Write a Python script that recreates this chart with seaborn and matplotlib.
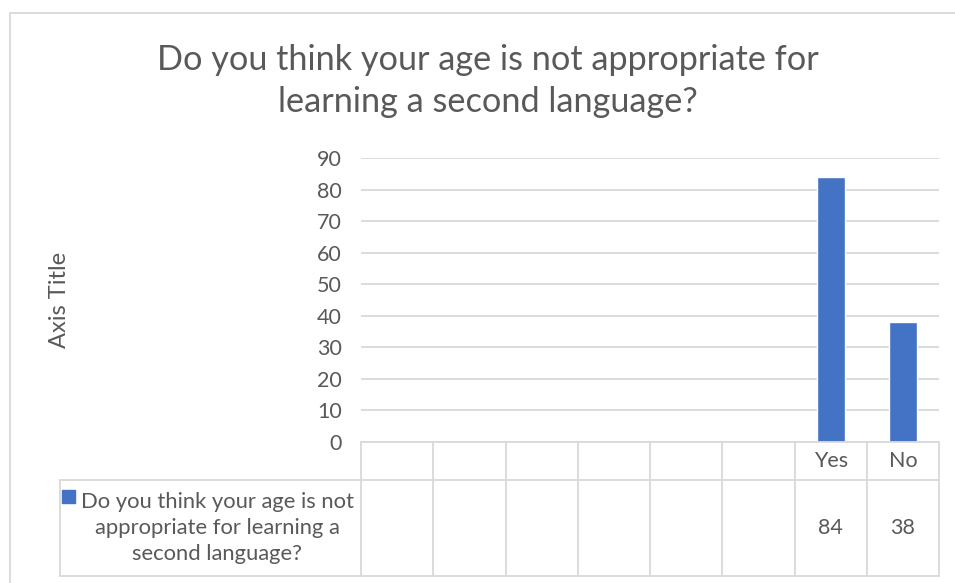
import matplotlib
matplotlib.use("Agg")
import matplotlib.pyplot as plt
import seaborn as sns
import pandas as pd
import numpy as np
from matplotlib.lines import Line2D
from matplotlib.patches import Rectangle

# ---- data ----
cat_labels = ["", "", "", "", "", "", "Yes", "No"]
values = [np.nan, np.nan, np.nan, np.nan, np.nan, np.nan, 84, 38]
series_name = "Do you think your age is not\nappropriate for learning a\nsecond language?"
title = "Do you think your age is not appropriate for\nlearning a second language?"
y_ticks = [0, 10, 20, 30, 40, 50, 60, 70, 80, 90]
y_label = "Axis Title"

sns.set_theme(style="white")
plt.rcParams['font.family'] = ['Lato', 'DejaVu Sans']

W, H = 955, 583
fig = plt.figure(figsize=(W / 100, H / 100), dpi=100)
fig.patch.set_facecolor("white")

def fx(px):
    return px / W

def fy(py):
    return 1 - py / H

# plot area in pixels
L, R, T, B = 361, 939, 158, 442
ax = fig.add_axes([fx(L), fy(B), fx(R - L), (B - T) / H])

df = pd.DataFrame({"slot": list(range(len(values))), "value": values})
sns.barplot(data=df, x="slot", y="value", order=list(range(len(values))),
            color="#4472C4", saturation=1, width=0.39, ax=ax, zorder=3)

ax.set_ylim(0, 90)
ax.set_xlim(-0.5, len(values) - 0.5)
ax.set_yticks(y_ticks)
ax.set_yticklabels([str(t) for t in y_ticks], fontsize=15.5, color="#595959")
ax.tick_params(axis="y", length=0, pad=14)
ax.set_xticks([])
ax.set_xlabel("")
ax.set_ylabel("")
for s in ax.spines.values():
    s.set_visible(False)
ax.yaxis.grid(True, color="#d9d9d9", linewidth=1.3, zorder=0)
ax.set_axisbelow(True)

# y axis title
fig.text(fx(60), fy(300), y_label, rotation=90, ha="center", va="center",
         fontsize=17, color="#595959")

# title
fig.text(fx(488), fy(81), title, ha="center", va="center", fontsize=24.7,
         color="#595959", linespacing=1.42)

# outer chart border
gc = "#d9d9d9"
fig.add_artist(Line2D([fx(10), fx(10)], [fy(13), fy(H)], color=gc, lw=1.3))
fig.add_artist(Line2D([fx(10), fx(W)], [fy(13), fy(13)], color=gc, lw=1.3))

# data table
row1_top, row1_bot, row2_bot = B, 480, 576
tab_left = 60
n = len(values)
colw = (R - L) / n
lc = "#d9d9d9"
fig.add_artist(Line2D([fx(L), fx(R)], [fy(row1_top), fy(row1_top)], color=lc, lw=1.3))
fig.add_artist(Line2D([fx(tab_left), fx(R)], [fy(row1_bot), fy(row1_bot)], color=lc, lw=1.3))
fig.add_artist(Line2D([fx(tab_left), fx(R)], [fy(row2_bot), fy(row2_bot)], color=lc, lw=1.3))
fig.add_artist(Line2D([fx(tab_left), fx(tab_left)], [fy(row1_bot), fy(row2_bot)], color=lc, lw=1.3))
for i in range(n + 1):
    x = L + i * colw
    fig.add_artist(Line2D([fx(x), fx(x)], [fy(row1_top), fy(row2_bot)], color=lc, lw=1.3))

for i, (lab, v) in enumerate(zip(cat_labels, values)):
    cx = L + (i + 0.5) * colw
    if lab:
        fig.text(fx(cx), fy(461), lab, ha="center", va="center", fontsize=15.5, color="#595959")
    if not np.isnan(v):
        fig.text(fx(cx), fy(528), f"{int(v)}", ha="center", va="center", fontsize=15.5, color="#595959")

# legend key + series name
fig.add_artist(Rectangle((fx(62), fy(503)), fx(13), 13 / H, color="#4472C4", transform=fig.transFigure))
fig.text(fx(217), fy(528), series_name, ha="center", va="center", fontsize=15.8,
         color="#595959", linespacing=1.38)

fig.savefig("out.png", dpi=100, facecolor="white")
